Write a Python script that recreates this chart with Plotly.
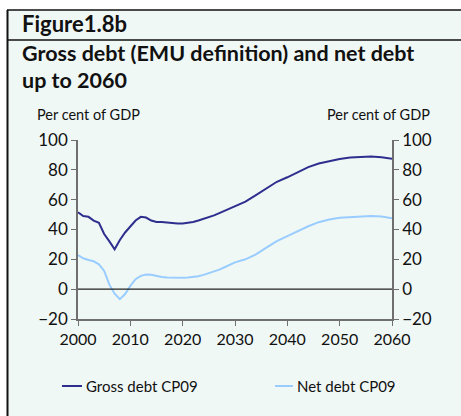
import plotly.graph_objects as go

years = [2000, 2001, 2002, 2003, 2004, 2005, 2006, 2007, 2008, 2009,
         2010, 2011, 2012, 2013, 2014, 2015, 2016, 2017, 2018, 2019,
         2020, 2021, 2022, 2023, 2024, 2025, 2026, 2027, 2028, 2029,
         2030, 2032, 2034, 2036, 2038, 2040, 2042, 2044, 2046, 2048,
         2050, 2052, 2054, 2056, 2058, 2060]

gross_debt = [51.5, 49.0, 48.5, 46.0, 44.5, 37.0, 32.0, 26.7, 33.0, 38.0,
              42.0, 46.0, 48.5, 48.0, 46.0, 45.0, 45.0, 44.5, 44.0, 44.0,
              44.0, 44.5, 45.0, 46.0, 47.0, 48.5, 49.5, 51.0, 52.5, 54.0,
              55.5, 58.7, 63.0, 67.8, 72.0, 75.0, 78.4, 81.8, 84.2, 86.0,
              87.3, 88.2, 88.4, 88.9, 88.4, 87.5]

net_debt = [22.9, 20.7, 19.6, 18.7, 16.7, 12.2, 3.0, -3.0, -6.7, -3.3,
            2.2, 6.7, 8.9, 9.8, 9.6, 8.7, 8.2, 7.8, 7.6, 7.3,
            7.6, 7.8, 8.2, 8.7, 9.6, 10.7, 12.0, 13.1, 14.7, 16.2,
            18.0, 20.0, 23.3, 27.8, 32.2, 35.6, 39.0, 42.2, 44.9, 46.7,
            47.8, 48.4, 48.7, 49.1, 48.7, 47.6]

y_ticks = [-20, 0, 20, 40, 60, 80, 100]
x_ticks = [2000, 2010, 2020, 2030, 2040, 2050, 2060]

series_names = ["Gross debt CP09", "Net debt CP09"]
series_colors = ["#2e2e8e", "#99ccff"]

FONT = "Lato, 'Open Sans', sans-serif"
BG = "#f0f8f6"
AXIS = "#6f6f6f"

# plot area pixels: x 78..392, y 140..319 on a 461x416 page
L, R, T, B = 78, 69, 140, 97
PW, PH = 461 - L - R, 416 - T - B


def px(x):
    return (x - L) / PW


def py(y):
    return 1 - (y - T) / PH


fig = go.Figure()
for vals, name, color in zip([gross_debt, net_debt], series_names, series_colors):
    fig.add_trace(go.Scatter(
        x=years, y=vals, mode="lines", name=name,
        line=dict(color=color, width=2),
    ))
# invisible trace to carry the right-hand axis
fig.add_trace(go.Scatter(
    x=years, y=gross_debt, yaxis="y2", mode="lines", showlegend=False,
    line=dict(color="rgba(0,0,0,0)"), hoverinfo="skip",
))

axis_common = dict(
    range=[-20, 100], tickvals=y_ticks, ticks="outside", ticklen=5,
    tickcolor=AXIS, showline=True, linecolor=AXIS, linewidth=1.5,
    showgrid=False, zeroline=False, tickfont=dict(size=17, color="#111111"),
)

fig.update_layout(
    width=461, height=416,
    paper_bgcolor=BG, plot_bgcolor=BG,
    margin=dict(l=L, r=R, t=T, b=B),
    font=dict(family=FONT, color="#111111"),
    xaxis=dict(
        range=[2000, 2060], tickvals=x_ticks, ticks="outside", ticklen=5,
        tickcolor=AXIS, showline=True, linecolor=AXIS, linewidth=1.5,
        showgrid=False, zeroline=False, tickfont=dict(size=16, color="#111111"),
    ),
    yaxis=dict(**axis_common, side="left"),
    yaxis2=dict(**axis_common, side="right", overlaying="y"),
    showlegend=False,
)

# zero line
fig.add_hline(y=0, line_color="#222222", line_width=1.2)

shapes = [
    # white strip on top and left
    dict(type="rect", x0=px(0), x1=px(461), y0=py(0), y1=py(10), fillcolor="white", line_width=0),
    dict(type="rect", x0=px(0), x1=px(7), y0=py(0), y1=py(416), fillcolor="white", line_width=0),
    # frame lines
    dict(type="line", x0=px(7), x1=px(461), y0=py(10), y1=py(10), line=dict(color="#111111", width=1.5)),
    dict(type="line", x0=px(7), x1=px(461), y0=py(40), y1=py(40), line=dict(color="#111111", width=1.5)),
    dict(type="line", x0=px(7.5), x1=px(7.5), y0=py(10), y1=py(416), line=dict(color="#111111", width=2)),
    # legend samples
    dict(type="line", x0=px(62), x1=px(82), y0=py(386), y1=py(386), line=dict(color=series_colors[0], width=2)),
    dict(type="line", x0=px(275), x1=px(293), y0=py(386), y1=py(386), line=dict(color=series_colors[1], width=2)),
]
for s in shapes:
    fig.add_shape(xref="paper", yref="paper", layer="above", **s)

annotations = [
    dict(text="<b>Figure1.8b</b>", x=px(21), y=py(23), size=22, anchor="left", v="middle"),
    dict(text="<b>Gross debt (EMU definition) and net debt</b>", x=px(21), y=py(67), size=21.5, anchor="left", v="bottom"),
    dict(text="<b>up to 2060</b>", x=px(21), y=py(66), size=21.5, anchor="left", v="top"),
    dict(text="Per cent of GDP", x=px(36), y=py(114), size=14.5, anchor="left", v="middle"),
    dict(text="Per cent of GDP", x=px(431), y=py(114), size=14.5, anchor="right", v="middle"),
    dict(text=series_names[0], x=px(85), y=py(386), size=15, anchor="left", v="middle"),
    dict(text=series_names[1], x=px(296), y=py(386), size=15, anchor="left", v="middle"),
]
for a in annotations:
    fig.add_annotation(
        text=a["text"], x=a["x"], y=a["y"], xref="paper", yref="paper",
        xanchor=a["anchor"], yanchor=a["v"], showarrow=False,
        borderpad=0,
        font=dict(size=a["size"], family=FONT, color="#111111"),
    )

fig.write_html(
    "out.html",
    config={"displayModeBar": False},
    post_script="document.body.style.margin='0';document.body.style.overflow='hidden';",
)
